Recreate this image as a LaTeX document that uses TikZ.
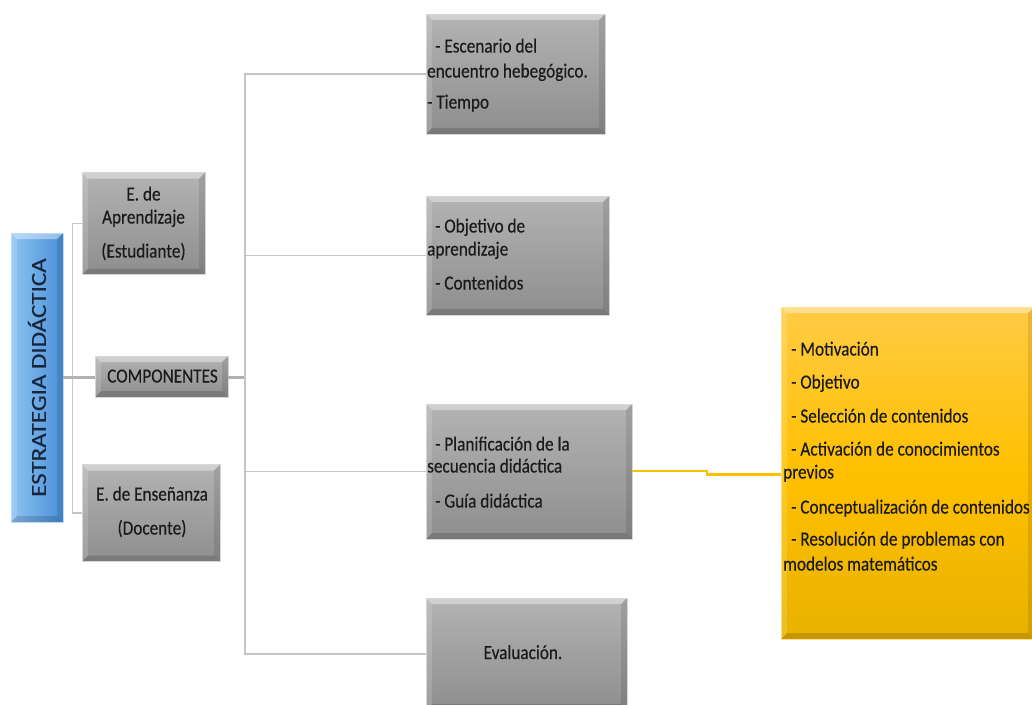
\documentclass[tikz,border=0pt]{standalone}
\usepackage{fontspec}
\setmainfont{Carlito}[FakeStretch=0.86,FakeBold=0.3]
\newfontfamily\bluefont{Carlito}[FakeBold=0.3]
\usetikzlibrary{calc}
\definecolor{connGray}{HTML}{C6C6C6}
\definecolor{connDark}{HTML}{B2B2B2}
\definecolor{boxEdge}{HTML}{D6D6D6}
\definecolor{gTop}{HTML}{B3B3B3}
\definecolor{gBot}{HTML}{8E8E8E}
\definecolor{yTop}{HTML}{FFCB45}
\definecolor{yMid}{HTML}{FFC000}
\definecolor{yBot}{HTML}{E8B200}
\definecolor{yLine}{HTML}{FFC000}
\definecolor{bLeft}{HTML}{8DC3F1}
\definecolor{bRight}{HTML}{4A8FD8}
\definecolor{txtc}{HTML}{1A1A1A}
\definecolor{navy}{HTML}{17263D}
\tikzset{
  bevel/.style={path picture={
    \fill[white,opacity=.40] (path picture bounding box.north west) -- (path picture bounding box.north east)
      -- ([shift={(-6pt,-6pt)}]path picture bounding box.north east) -- ([shift={(6pt,-6pt)}]path picture bounding box.north west) -- cycle;
    \fill[white,opacity=.15] (path picture bounding box.north west) -- ([shift={(6pt,-6pt)}]path picture bounding box.north west)
      -- ([shift={(6pt,6pt)}]path picture bounding box.south west) -- (path picture bounding box.south west) -- cycle;
    \fill[black,opacity=.10] (path picture bounding box.north east) -- ([shift={(-6pt,-6pt)}]path picture bounding box.north east)
      -- ([shift={(-6pt,6pt)}]path picture bounding box.south east) -- (path picture bounding box.south east) -- cycle;
    \fill[black,opacity=.15] (path picture bounding box.south west) -- ([shift={(6pt,6pt)}]path picture bounding box.south west)
      -- ([shift={(-6pt,6pt)}]path picture bounding box.south east) -- (path picture bounding box.south east) -- cycle;
  }},
  gbox/.style={draw=boxEdge, line width=0.8pt, top color=gTop, bottom color=gBot, inner sep=0pt, bevel},
  ybox/.style={draw=yTop!60!white, line width=0.8pt, top color=yTop, bottom color=yBot, middle color=yMid, inner sep=0pt, bevel},
  bbox/.style={draw=bLeft!60!white, line width=0.8pt, left color=bLeft, right color=bRight, inner sep=0pt, bevel},
  conn/.style={draw=connGray, line width=1.6pt},
  mainconn/.style={draw=connDark, line width=2.8pt},
  yconn/.style={draw=yLine, line width=2.2pt},
  txt/.style={anchor=base west, inner sep=0pt, font=\fontsize{20}{24}\selectfont, text=txtc},
  ctxt/.style={anchor=base, inner sep=0pt, font=\fontsize{20}{24}\selectfont, text=txtc},
}
\begin{document}
\begin{tikzpicture}[x=1pt,y=-1pt]
\useasboundingbox (0,0) rectangle (1032,704);
% connectors (behind boxes)
\coordinate (trunk) at (245,377.5);
\coordinate (ybend) at (707,471);
% boxes
\node[bbox, minimum width=52, minimum height=289] (blue) at (37,377.5) {};
\node[gbox, minimum width=123, minimum height=102] (apr) at (143.5,223.5) {};
\node[gbox, minimum width=133, minimum height=41] (comp) at (161.5,376.5) {};
\node[gbox, minimum width=138, minimum height=97] (ens) at (151,513) {};
\node[gbox, minimum width=179, minimum height=120] (b1) at (515.5,74) {};
\node[gbox, minimum width=183, minimum height=119] (b2) at (517.5,255.5) {};
\node[gbox, minimum width=206, minimum height=135] (b3) at (529,471.5) {};
\node[gbox, minimum width=201, minimum height=112] (b4) at (526.5,654) {};
\node[ybox, minimum width=253, minimum height=332] (yel) at (907.5,473) {};
% connectors
\draw[conn] (apr.west) -- ++(-9,0) |- (ens.west);
\draw[mainconn] (blue.east |- trunk) -- (comp.west |- trunk);
\draw[mainconn] (comp.east |- trunk) -- (trunk);
\draw[conn] (b1.west) -| (trunk) |- (b4.west);
\draw[conn] (b2.west) -- (b2.west -| trunk);
\draw[conn] (b3.west) -- (b3.west -| trunk);
\draw[yconn] (b3.east |- ybend) -- (ybend) |- ([yshift=-1.5pt]yel.west);
% texts
\node[inner sep=0pt, rotate=90, text=navy, font=\bluefont\fontsize{25}{30}\selectfont] (bluet) at (blue.center) {\scalebox{1}[0.86]{ESTRATEGIA DIDÁCTICA}};
\node[ctxt] (apr1) at (143.5,200.5) {E. de};
\node[ctxt] (apr2) at (143.5,223.5) {Aprendizaje};
\node[ctxt] (apr3) at (143.5,257.5) {(Estudiante)};
\node[ctxt] (compt) at (162.5,382.5) {COMPONENTES};
\node[ctxt] (ens1) at (152,500.5) {E. de Enseñanza};
\node[ctxt] (ens2) at (152,534.5) {(Docente)};
\node[txt] (b1a) at (435,52.5) {- Escenario del};
\node[txt] (b1b) at (427,77.5) {encuentro hebegógico.};
\node[txt] (b1c) at (427,108.5) {- Tiempo};
\node[txt] (b2a) at (435,232.5) {- Objetivo de};
\node[txt] (b2b) at (427,255.5) {aprendizaje};
\node[txt] (b2c) at (435,289.5) {- Contenidos};
\node[txt] (b3a) at (435,450.5) {- Planificación de la};
\node[txt] (b3b) at (427,472.5) {secuencia didáctica};
\node[txt] (b3c) at (435,507.5) {- Guía didáctica};
\node[ctxt] (b4t) at (523,659) {Evaluación.};
\node[txt] (y1) at (791,355.5) {- Motivación};
\node[txt] (y2) at (791,388.5) {- Objetivo};
\node[txt] (y3) at (791,422.5) {- Selección de contenidos};
\node[txt] (y4) at (791,455.5) {- Activación de conocimientos};
\node[txt] (y5) at (783,478.5) {previos};
\node[txt] (y6) at (791,513.5) {- Conceptualización de contenidos};
\node[txt] (y7) at (791,545.5) {- Resolución de problemas con};
\node[txt] (y8) at (783,570.5) {modelos matemáticos};
\end{tikzpicture}
\end{document}
